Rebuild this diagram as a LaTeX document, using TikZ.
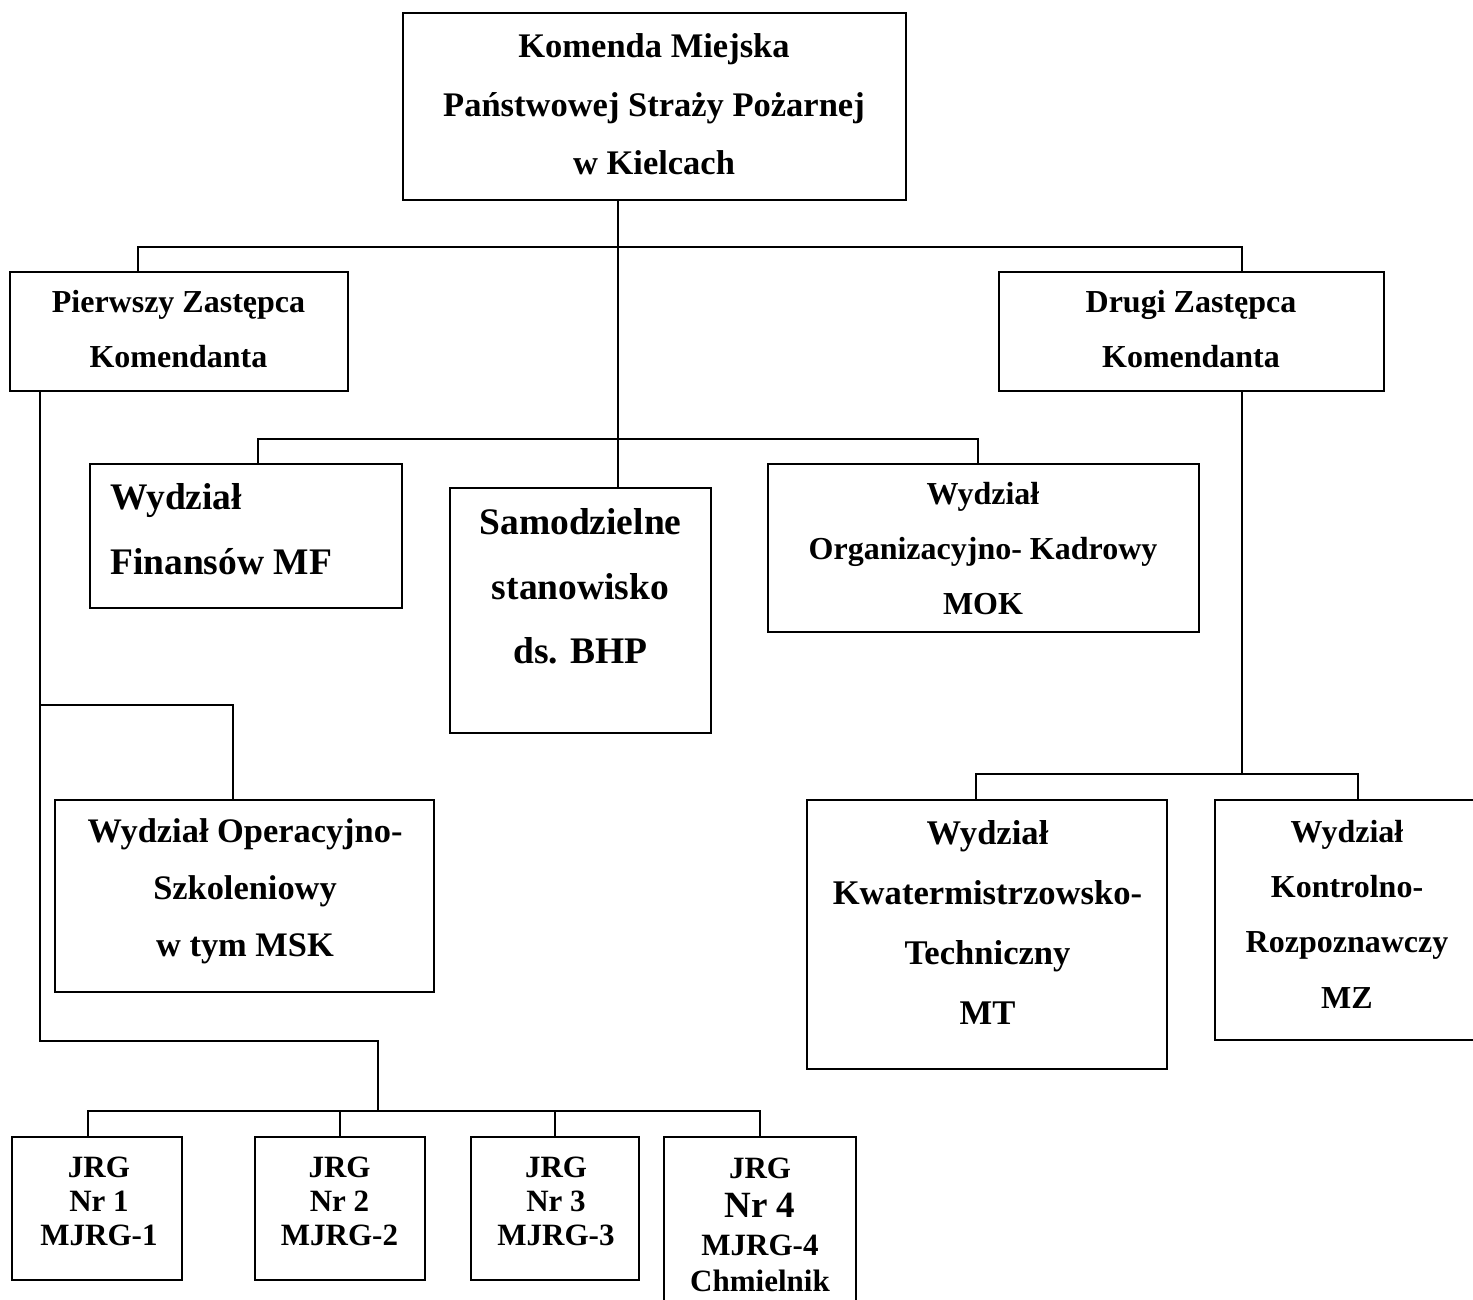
\documentclass[tikz,border=0pt]{standalone}
\usepackage{fontspec}
\setmainfont{Liberation Serif}
\begin{document}
\begin{tikzpicture}[x=1pt,y=-1pt,
  orgbox/.style={draw=black,line width=1.5pt,rectangle,inner sep=0pt},
  lbl/.style={inner sep=0pt,align=center},
  conn/.style={line width=1.5pt,line cap=rect}]
\clip (0,0) rectangle (1473,1300);
\fill[white] (0,0) rectangle (1473,1300);
% boxes
\node[orgbox,minimum width=503,minimum height=187] (top) at (654.5,106.5) {};
\node[orgbox,minimum width=338,minimum height=119] (pierw) at (179,331.5) {};
\node[orgbox,minimum width=385,minimum height=119] (drugi) at (1191.5,331.5) {};
\node[orgbox,minimum width=312,minimum height=144] (fin) at (246,536) {};
\node[orgbox,minimum width=261,minimum height=245] (sam) at (580.5,610.5) {};
\node[orgbox,minimum width=431,minimum height=168] (mok) at (983.5,548) {};
\node[orgbox,minimum width=379,minimum height=192] (oper) at (244.5,896) {};
\node[orgbox,minimum width=360,minimum height=269] (kwat) at (987,934.5) {};
\node[orgbox,minimum width=275,minimum height=240] (mz) at (1352.5,920) {};
\node[orgbox,minimum width=170,minimum height=143] (j1) at (97,1208.5) {};
\node[orgbox,minimum width=170,minimum height=143] (j2) at (340,1208.5) {};
\node[orgbox,minimum width=168,minimum height=143] (j3) at (555,1208.5) {};
\node[orgbox,minimum width=192,minimum height=183] (j4) at (760,1228.5) {};
% texts
\node[lbl,font=\bfseries\fontsize{34.5}{58.5}\selectfont] (topT) at (654,104.5)
  {Komenda Miejska\\Państwowej Straży Pożarnej\\w Kielcach};
\node[lbl,font=\bfseries\fontsize{32}{55}\selectfont] (pierwT) at (178.5,329.5)
  {Pierwszy Zastępca\\Komendanta};
\node[lbl,font=\bfseries\fontsize{32}{55}\selectfont] (drugiT) at (1191,329.5)
  {Drugi Zastępca\\Komendanta};
\node[lbl,align=left,anchor=west,font=\bfseries\fontsize{37.5}{65}\selectfont] (finT) at (110,529.5)
  {Wydział\\Finansów MF};
\node[lbl,font=\bfseries\fontsize{37.5}{64.5}\selectfont] (samT) at (580.5,586.5)
  {Samodzielne\\stanowisko\\ds. BHP};
\node[lbl,font=\bfseries\fontsize{32}{55}\selectfont] (mokT) at (983,549)
  {Wydział\\Organizacyjno- Kadrowy\\MOK};
\node[lbl,font=\bfseries\fontsize{34.4}{57}\selectfont] (operT) at (245,891)
  {Wydział Operacyjno-\\Szkoleniowy\\w tym MSK};
\node[lbl,font=\bfseries\fontsize{34.6}{60}\selectfont] (kwatT) at (987.5,922)
  {Wydział\\Kwatermistrzowsko-\\Techniczny\\MT};
\node[lbl,font=\bfseries\fontsize{32}{55.3}\selectfont] (mzT) at (1347,914)
  {Wydział\\Kontrolno-\\Rozpoznawczy\\MZ};
\node[lbl,font=\bfseries\fontsize{31}{34}\selectfont] (j1T) at (99,1201.7)
  {JRG\\Nr 1\\MJRG-1};
\node[lbl,font=\bfseries\fontsize{31}{34}\selectfont] (j2T) at (339.5,1201.7)
  {JRG\\Nr 2\\MJRG-2};
\node[lbl,font=\bfseries\fontsize{31}{34}\selectfont] (j3T) at (556,1201.7)
  {JRG\\Nr 3\\MJRG-3};
\node[lbl,font=\bfseries\fontsize{31}{36}\selectfont] (j4T) at (760,1224.5)
  {JRG\\[3pt]{\fontsize{37}{40}\selectfont Nr 4}\\[2pt]MJRG-4\\Chmielnik};
% connector coordinates
\coordinate (tv) at (618,247);
\coordinate (b1L) at (138,247);
\coordinate (b1R) at (1242,247);
\coordinate (b2L) at (258,439);
\coordinate (b2R) at (978,439);
\coordinate (lv) at (40,705);
\coordinate (opk) at (233,705);
\coordinate (lb) at (40,1041);
\coordinate (lbr) at (378,1041);
\coordinate (b3) at (378,1111);
\coordinate (b3L) at (88,1111);
\coordinate (b3R) at (760,1111);
\coordinate (j2k) at (340,1111);
\coordinate (j3k) at (555,1111);
\coordinate (rv) at (1242,774);
\coordinate (b4L) at (976,774);
\coordinate (b4R) at (1358,774);
% connectors
\draw[conn] (tv |- top.south) -- (tv |- sam.north);
\draw[conn] (b1L) -- (b1R);
\draw[conn] (b1L) -- (b1L |- pierw.north);
\draw[conn] (b1R) -- (b1R |- drugi.north);
\draw[conn] (b2L) -- (b2R);
\draw[conn] (b2L) -- (b2L |- fin.north);
\draw[conn] (b2R) -- (b2R |- mok.north);
\draw[conn] (lv |- pierw.south) -- (lb) -- (lbr) -- (b3);
\draw[conn] (lv) -- (opk) -- (opk |- oper.north);
\draw[conn] (b3L) -- (b3R);
\draw[conn] (b3L) -- (b3L |- j1.north);
\draw[conn] (j2k) -- (j2k |- j2.north);
\draw[conn] (j3k) -- (j3k |- j3.north);
\draw[conn] (b3R) -- (b3R |- j4.north);
\draw[conn] (rv |- drugi.south) -- (rv);
\draw[conn] (b4L) -- (b4R);
\draw[conn] (b4L) -- (b4L |- kwat.north);
\draw[conn] (b4R) -- (b4R |- mz.north);
\end{tikzpicture}
\end{document}
